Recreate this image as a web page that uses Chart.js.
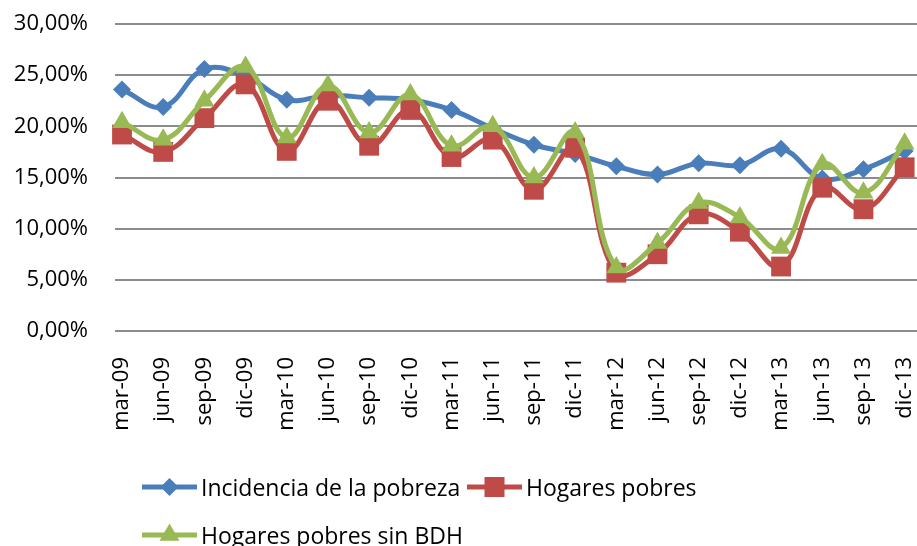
<!DOCTYPE html>
<html><head><meta charset="utf-8">
<script src="https://cdn.jsdelivr.net/npm/chart.js@4/dist/chart.umd.min.js"></script>
<style>
html,body{margin:0;padding:0;background:#fff;}
#wrap{position:relative;width:917px;height:546px;overflow:hidden;}
#c{position:absolute;left:0;top:0;}
.leg{position:absolute;height:32px;display:flex;align-items:center;font-family:'Open Sans',sans-serif;font-size:23px;color:#000;white-space:nowrap;}
.leg svg{margin-right:4px;}
</style></head><body>
<div id="wrap">
<canvas id="c" width="917" height="546"></canvas>
<div class="leg" id="l0" style="left:142px;top:471px"></div>
<div class="leg" id="l1" style="left:467px;top:471px"></div>
<div class="leg" id="l2" style="left:142px;top:519px"></div>
</div>
<script>
const categories = ['mar-09','jun-09','sep-09','dic-09','mar-10','jun-10','sep-10','dic-10','mar-11','jun-11','sep-11','dic-11','mar-12','jun-12','sep-12','dic-12','mar-13','jun-13','sep-13','dic-13'];
const incidencia = [23.6,21.9,25.6,24.9,22.6,23.0,22.8,22.6,21.6,19.8,18.2,17.3,16.1,15.3,16.4,16.2,17.8,14.9,15.8,17.6];
const hogaresPobres = [19.2,17.5,20.8,24.1,17.6,22.5,18.1,21.6,17.0,18.7,13.8,17.9,5.7,7.5,11.4,9.7,6.3,14.0,11.9,16.0];
const sinBDH = [20.4,18.7,22.5,25.8,18.9,24.0,19.4,23.1,18.1,20.0,15.0,19.4,6.2,8.6,12.5,11.1,8.1,16.3,13.5,18.3];
const yTicks = [0,5,10,15,20,25,30];
const seriesNames = ['Incidencia de la pobreza','Hogares pobres','Hogares pobres sin BDH'];

const BLUE='#4A7EBB', RED='#BE4B48', GREEN='#98B954';
const FONT={family:'Open Sans', size:22};
const toXY = arr => arr.map((v,i)=>({x:i,y:v}));

function ds(label, data, color, style, r, order){
  return {label, data:toXY(data), borderColor:color, backgroundColor:color, borderWidth:5,
    pointStyle:style, pointRadius:r, pointHoverRadius:r, pointBorderWidth:0, tension:0.4, order, fill:false, clip:false};
}

new Chart(document.getElementById('c'), {
  type:'line',
  data:{datasets:[
    ds(seriesNames[0], incidencia, BLUE, 'rectRot', 9, 3),
    ds(seriesNames[1], hogaresPobres, RED, 'rect', 14, 2),
    ds(seriesNames[2], sinBDH, GREEN, 'triangle', 11.5, 1)
  ]},
  options:{
    responsive:false, animation:false,
    layout:{autoPadding:false, padding:{top:24,right:0,bottom:105,left:0}},
    plugins:{legend:{display:false}, tooltip:{enabled:false}},
    scales:{
      x:{type:'linear', min:-0.17, max:19.3,
        grid:{display:false, drawTicks:false}, border:{display:false},
        afterBuildTicks:s=>{s.ticks=categories.map((_,i)=>({value:i}));},
        ticks:{autoSkip:false, maxRotation:90, minRotation:90, padding:26, font:FONT, color:'#000',
          callback:v=>categories[v]},
        afterFit:s=>{s.height=110; s.paddingLeft=0; s.paddingRight=0;}
      },
      y:{min:0, max:30,
        afterBuildTicks:s=>{s.ticks=yTicks.map(v=>({value:v}));},
        grid:{color:'#8c8c8c', lineWidth:2, drawTicks:false}, border:{display:false},
        ticks:{padding:27, font:FONT, color:'#000', callback:v=>v.toFixed(2).replace('.',',')+'%'},
        afterFit:s=>{s.width=115; s.paddingTop=0; s.paddingBottom=0;}
      }
    }
  }
});

function icon(color, shape){
  let m='';
  if(shape==='d') m=`<polygon points="27.5,7 36.5,16 27.5,25 18.5,16" fill="${color}"/>`;
  if(shape==='s') m=`<rect x="17.5" y="6" width="20" height="20" fill="${color}"/>`;
  if(shape==='t') m=`<polygon points="27.5,4.5 37.5,21.75 17.5,21.75" fill="${color}"/>`;
  return `<svg width="55" height="32" viewBox="0 0 55 32"><line x1="0" y1="16" x2="55" y2="16" stroke="${color}" stroke-width="5"/>${m}</svg>`;
}
document.getElementById('l0').innerHTML = icon(BLUE,'d')+'<span>'+seriesNames[0]+'</span>';
document.getElementById('l1').innerHTML = icon(RED,'s')+'<span>'+seriesNames[1]+'</span>';
document.getElementById('l2').innerHTML = icon(GREEN,'t')+'<span>'+seriesNames[2]+'</span>';
</script>
</body></html>
